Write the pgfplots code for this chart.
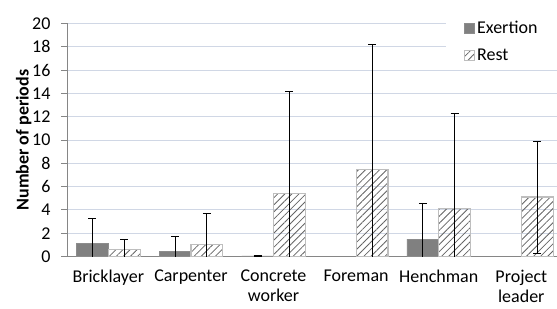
\documentclass[border=0pt]{standalone}
\usepackage{pgfplots}
\pgfplotsset{compat=1.18}
\usetikzlibrary{patterns.meta}
\usepackage{fontspec}
\setmainfont{Carlito}
\definecolor{gridc}{RGB}{208,215,229}
\definecolor{axc}{RGB}{134,134,134}
\definecolor{exfill}{RGB}{128,128,128}
\definecolor{exline}{RGB}{140,140,140}
\definecolor{restline}{RGB}{190,190,190}
\definecolor{hatchc}{RGB}{100,100,100}
\begin{document}
\begin{tikzpicture}
\begin{axis}[
  scale only axis,
  width=490pt, height=233pt,
  xmin=-0.5, xmax=5.432,
  ymin=0, ymax=20,
  ytick={0,2,...,20},
  axis x line*=bottom, axis y line*=left,
  axis line style={axc, line width=0.8pt},
  every outer x axis line/.append style={-},
  every outer y axis line/.append style={-},
  ymajorgrids, grid style={gridc, line width=0.8pt},
  ytick style={axc, line width=0.8pt},
  tick align=outside, major tick length=6pt,
  xtick={0,...,5},
  xticklabels={Bricklayer,Carpenter,{Concrete\\worker},Foreman,Henchman,{Project\\leader}},
  xtick style={draw=none},
  extra x ticks={-0.5,0.5,1.5,2.5,3.5,4.5},
  extra x tick labels={},
  extra x tick style={grid=none, tick style={axc, line width=0.8pt, draw=axc}},
  xticklabel style={align=center, font=\fontsize{18}{20}\selectfont, yshift=-6pt, inner sep=1pt},
  yticklabel style={font=\fontsize{18}{21}\selectfont, xshift=-7pt},
  /pgf/number format/assume math mode=true,
  ylabel={\bfseries Number of periods},
  ylabel style={font=\fontsize{18}{21}\selectfont, yshift=-6pt},
  ybar, bar width=0.385,
  legend style={draw=none, fill=white, at={(0.773,1.036)}, anchor=north west,
    inner xsep=18pt, inner ysep=4pt, row sep=10pt, cells={anchor=west},
    font=\fontsize{18}{21}\selectfont, /tikz/every even column/.append style={column sep=3pt}},
  legend image code/.code={\draw[#1] (0pt,-5pt) rectangle (10pt,5pt);},
  error bars/error bar style={black, line width=0.8pt},
  error bars/error mark options={black, line width=0.8pt, mark size=4pt, rotate=90},
]
\addplot[fill=exfill, draw=exline, line width=0.8pt, bar shift=-0.1925,
  error bars/.cd, y dir=both, y explicit]
  coordinates {(0,1.1) +- (0,2.2) (1,0.4) +- (0,1.3) (2,0.05) +- (0,0.05) (4,1.5) +- (0,3.1)};
\addlegendentry{Exertion}
\addplot[pattern={Lines[angle=45,distance=5pt,line width=0.8pt]}, pattern color=hatchc,
  draw=restline, line width=1.2pt, bar shift=0.1925,
  error bars/.cd, y dir=both, y explicit]
  coordinates {(0,0.6) +- (0,0.9) (1,1.0) +- (0,2.7) (2,5.4) +- (0,8.8) (3,7.5) +- (0,10.7) (4,4.1) +- (0,8.2) (5,5.1) +- (0,4.8)};
\addlegendentry{Rest}
\end{axis}
\pgfresetboundingbox
\useasboundingbox ([shift={(-67pt,-52.5pt)}]current axis.south west) rectangle ([shift={(0pt,23.5pt)}]current axis.north east);
\end{tikzpicture}
\end{document}
